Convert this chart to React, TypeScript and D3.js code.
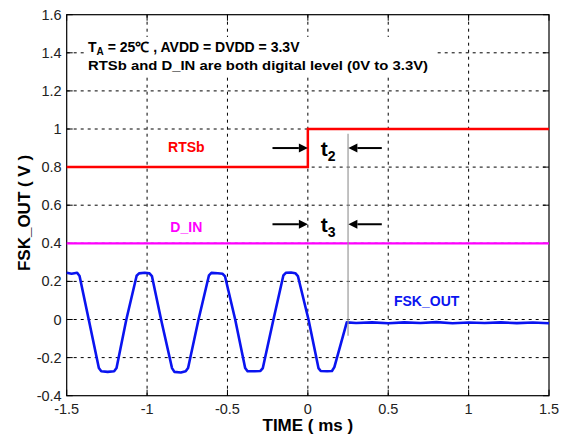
import React from "react";
import * as d3 from "d3";

const W = 562;
const H = 439;

const xTicks = [-1.5, -1, -0.5, 0, 0.5, 1, 1.5];
const yTicks = [-0.4, -0.2, 0, 0.2, 0.4, 0.6, 0.8, 1, 1.2, 1.4, 1.6];

// FSK_OUT waveform (time ms, volts)
const fskTime = [-1.5, -1.47, -1.435, -1.42, -1.363, -1.30, -1.285, -1.245, -1.205, -1.19, -1.129, -1.065, -1.05, -1.015, -0.985, -0.97, -0.913, -0.845, -0.83, -0.79, -0.76, -0.745, -0.68, -0.615, -0.60, -0.56, -0.53, -0.515, -0.452, -0.39, -0.375, -0.33, -0.295, -0.28, -0.214, -0.152, -0.137, -0.105, -0.078, -0.062, 0.004, 0.066, 0.08, 0.12, 0.15, 0.165, 0.242, 0.3, 0.4, 0.5, 0.6, 0.7, 0.8, 0.9, 1.0, 1.1, 1.2, 1.3, 1.4, 1.5];
const fskValue = [0.245, 0.24, 0.245, 0.228, 0.0, -0.255, -0.272, -0.275, -0.272, -0.255, 0.0, 0.23, 0.242, 0.245, 0.242, 0.228, 0.0, -0.255, -0.275, -0.278, -0.272, -0.255, 0.0, 0.232, 0.245, 0.243, 0.24, 0.226, 0.0, -0.255, -0.272, -0.272, -0.27, -0.255, 0.0, 0.232, 0.245, 0.247, 0.243, 0.228, 0.0, -0.255, -0.27, -0.272, -0.27, -0.25, -0.015, -0.018, -0.015, -0.02, -0.015, -0.018, -0.014, -0.02, -0.016, -0.018, -0.015, -0.019, -0.016, -0.02];

const rtsTime = [-1.5, 0, 0, 1.5];
const rtsValue = [0.8, 0.8, 1.0, 1.0];

const dinTime = [-1.5, 1.5];
const dinValue = [0.4, 0.4];

export default function App() {
  const x = d3.scaleLinear().domain([-1.5, 1.5]).range([66.7, 549]);
  const y = d3.scaleLinear().domain([-0.4, 1.6]).range([395.7, 14.7]);
  const x0 = x.range()[0], x1 = x.range()[1];
  const y0 = y.range()[0], y1 = y.range()[1];

  const line = d3.line<[number, number]>().x(d => x(d[0])).y(d => y(d[1]));

  const fsk = fskTime.map((t, i) => [t, fskValue[i]] as [number, number]);
  const rts = rtsTime.map((t, i) => [t, rtsValue[i]] as [number, number]);
  const din = dinTime.map((t, i) => [t, dinValue[i]] as [number, number]);

  const font = "'Liberation Sans', Arial, sans-serif";

  const arrow = (tail: number, tip: number, v: number, key: string) => {
    const xt = x(tail), xp = x(tip), yy = y(v);
    const dir = xp > xt ? 1 : -1;
    const hl = 9, hw = 4.5;
    return (
      <g key={key}>
        <line x1={xt} y1={yy} x2={xp - dir * hl} y2={yy} stroke="#000" strokeWidth={2} />
        <path d={`M${xp},${yy} L${xp - dir * hl},${yy - hw} L${xp - dir * hl},${yy + hw} Z`} fill="#000" />
      </g>
    );
  };

  return (
    <svg width={W} height={H} style={{ position: "absolute", left: 0, top: 0, background: "#fff" }} fontFamily={font}>
      <rect x={0} y={0} width={W} height={H} fill="#fff" />
      {/* grid */}
      {xTicks.slice(1, -1).map(t => (
        <line key={"gx" + t} x1={x(t)} x2={x(t)} y1={y1} y2={y0} stroke="#000" strokeWidth={1} strokeDasharray="3,4" />
      ))}
      {yTicks.slice(1, -1).map(v => (
        <line key={"gy" + v} x1={x0} x2={x1} y1={y(v)} y2={y(v)} stroke="#000" strokeWidth={1} strokeDasharray="3,4" />
      ))}
      {/* header text box */}
      <rect x={84} y={37} width={350} height={39} fill="#fff" />
      <text x={88} y={51.5} fontSize={14} fontWeight="bold" fill="#000">
        <tspan>T</tspan>
        <tspan fontSize={10} dy={3}>A</tspan>
        <tspan dy={-3}> = 25℃ , AVDD = DVDD = 3.3V</tspan>
      </text>
      <text x={88} y={70} fontSize={13.5} fontWeight="bold" fill="#000" textLength={340} lengthAdjust="spacingAndGlyphs">
        RTSb and D_IN are both digital level (0V to 3.3V)
      </text>
      {/* frame */}
      <rect x={x0} y={y1} width={x1 - x0} height={y0 - y1} fill="none" stroke="#000" strokeWidth={1.2} />
      {xTicks.map(t => (
        <g key={"tx" + t}>
          <line x1={x(t)} x2={x(t)} y1={y0} y2={y0 - 6} stroke="#000" />
          <line x1={x(t)} x2={x(t)} y1={y1} y2={y1 + 6} stroke="#000" />
          <text x={x(t)} y={y0 + 18} fontSize={14.5} textAnchor="middle" fill="#222">{String(t)}</text>
        </g>
      ))}
      {yTicks.map(v => (
        <g key={"ty" + v}>
          <line x1={x0} x2={x0 + 6} y1={y(v)} y2={y(v)} stroke="#000" />
          <line x1={x1} x2={x1 - 6} y1={y(v)} y2={y(v)} stroke="#000" />
          <text x={x0 - 5} y={y(v) + 5} fontSize={14.5} textAnchor="end" fill="#222">{String(Math.round(v * 10) / 10)}</text>
        </g>
      ))}
      {/* series */}
      <path d={line(din) || ""} fill="none" stroke="#ff00ff" strokeWidth={2.2} />
      <path d={line(rts) || ""} fill="none" stroke="#ff0000" strokeWidth={2.5} />
      <path d={line(fsk) || ""} fill="none" stroke="#0a14f0" strokeWidth={2.6} strokeLinejoin="round" />
      {/* annotations */}
      <line x1={x(0.25)} x2={x(0.25)} y1={y(0.975)} y2={y(-0.085)} stroke="#999" strokeWidth={1.2} />
      {arrow(-0.22, 0, 0.9, "a1")}
      {arrow(0.46, 0.252, 0.9, "a2")}
      {arrow(-0.22, 0, 0.5, "a3")}
      {arrow(0.46, 0.252, 0.5, "a4")}
      <text x={x(0.08)} y={y(0.9) + 8} fontSize={21} fontWeight="bold" fill="#000">
        t<tspan fontSize={14} dy={5}>2</tspan>
      </text>
      <text x={x(0.08)} y={y(0.5) + 8} fontSize={21} fontWeight="bold" fill="#000">
        t<tspan fontSize={14} dy={5}>3</tspan>
      </text>
      <text x={x(-0.756)} y={y(0.878)} fontSize={14} fontWeight="bold" textAnchor="middle" fill="#ff0000">RTSb</text>
      <text x={x(-0.756)} y={y(0.458)} fontSize={14} fontWeight="bold" textAnchor="middle" fill="#ff00ff">D_IN</text>
      <text x={x(0.739)} y={y(0.073)} fontSize={14} fontWeight="bold" textAnchor="middle" fill="#0a14f0">FSK_OUT</text>
      {/* axis titles */}
      <text x={(x0 + x1) / 2} y={431} fontSize={17} fontWeight="bold" textAnchor="middle" fill="#000">TIME ( ms )</text>
      <text transform={`translate(30,${213}) rotate(-90)`} fontSize={17} fontWeight="bold" textAnchor="middle" fill="#000">FSK_OUT ( V )</text>
    </svg>
  );
}
